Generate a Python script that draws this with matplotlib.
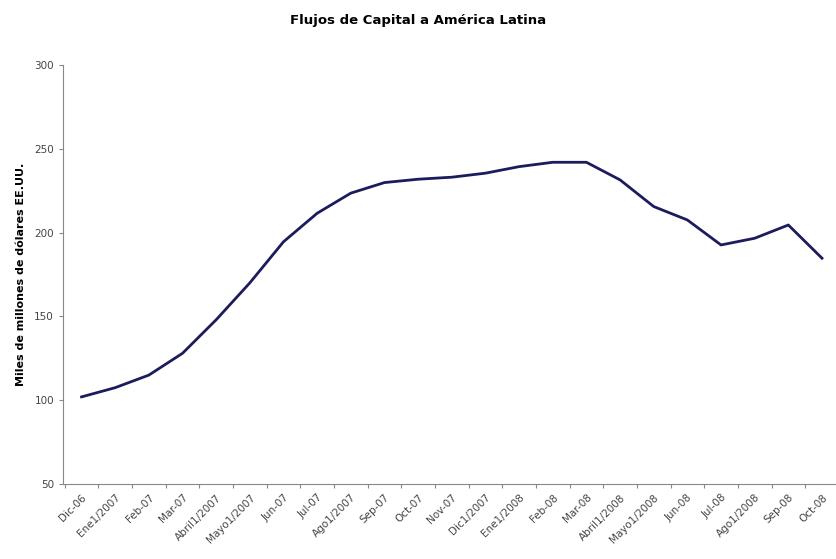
import matplotlib
matplotlib.use('Agg')
import matplotlib.pyplot as plt
import numpy as np

meses = ["Dic-06", "Ene1/2007", "Feb-07", "Mar-07", "Abril1/2007", "Mayo1/2007",
         "Jun-07", "Jul-07", "Ago1/2007", "Sep-07", "Oct-07", "Nov-07",
         "Dic1/2007", "Ene1/2008", "Feb-08", "Mar-08", "Abril1/2008", "Mayo1/2008",
         "Jun-08", "Jul-08", "Ago1/2008", "Sep-08", "Oct-08"]
flujos = [102, 107.5, 115, 128, 148, 170, 194.5, 211.5, 223.5, 229.8, 231.8, 233,
          235.4, 239.3, 241.9, 241.9, 231.4, 215.5, 207.5, 192.6, 196.6, 204.5, 184.7]

fig = plt.figure(figsize=(8.36, 5.59), dpi=100)
ax = fig.add_axes([0.0754, 0.134, 0.93, 0.75])

x = np.arange(len(meses))
ax.plot(x, flujos, color="#1c1c5c", linewidth=2)

ax.set_xlim(-0.55, 22.55)
ax.set_ylim(50, 300)
ax.set_yticks(range(50, 301, 50))
ax.tick_params(axis="y", labelsize=7.5, labelcolor="#444444", length=3, color="#888888")

# tick marks between categories, labels at categories
ax.set_xticks(np.arange(len(meses) + 1) - 0.5)
ax.set_xticklabels([])
ax.set_xticks(x, minor=True)
ax.set_xticklabels(meses, minor=True, rotation=45, ha="right", rotation_mode="anchor",
                   fontsize=7.5, color="#444444")
ax.tick_params(axis="x", which="major", length=3, color="#888888")
ax.tick_params(axis="x", which="minor", length=0, pad=6)

for s in ["top", "right"]:
  ax.spines[s].set_visible(False)
for s in ["left", "bottom"]:
  ax.spines[s].set_color("#888888")

ax.set_ylabel("Miles de millones de dólares EE.UU.", fontsize=8, fontweight="bold", labelpad=6)
fig.suptitle("Flujos de Capital a América Latina", fontsize=9.5, fontweight="bold", y=0.975)

plt.savefig("out.png", dpi=100)
